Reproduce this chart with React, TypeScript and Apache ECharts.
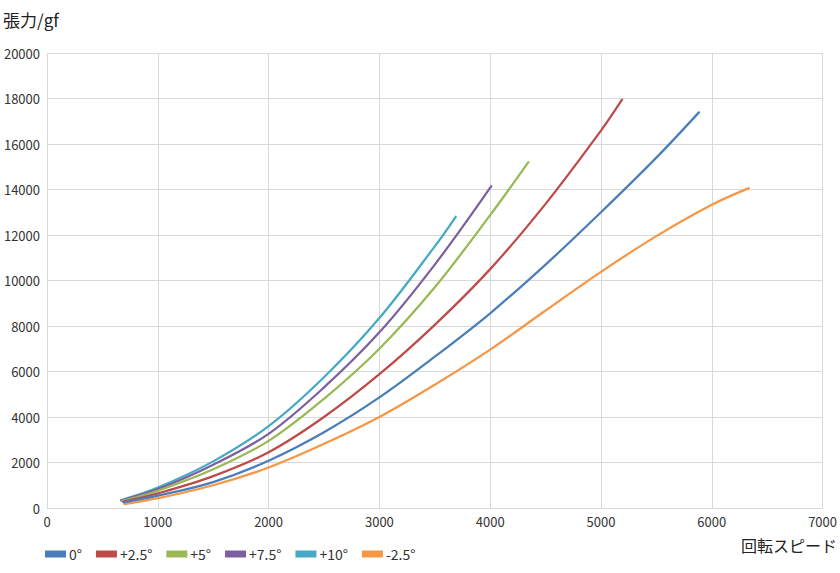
import React, { useEffect, useRef } from "react";
import * as echarts from "echarts";

const seriesNames = ["0°", "+2.5°", "+5°", "+7.5°", "+10°", "-2.5°"];
const seriesColors = ["#4A7EBB", "#BE4B48", "#98B954", "#7D60A0", "#46AAC5", "#F79646"];

const speed0 = [690, 1000, 1500, 2000, 2500, 3000, 3500, 4000, 4500, 5000, 5500, 5884];
const tension0 = [250, 540, 1140, 2080, 3330, 4860, 6650, 8560, 10700, 13000, 15400, 17390];

const speedP25 = [690, 1000, 1500, 2000, 2500, 3000, 3500, 4000, 4500, 5000, 5190];
const tensionP25 = [280, 640, 1400, 2450, 4000, 5880, 8050, 10500, 13370, 16590, 17950];

const speedP5 = [680, 1000, 1500, 2000, 2500, 3000, 3500, 4000, 4345];
const tensionP5 = [310, 760, 1700, 2950, 4800, 7000, 9700, 12875, 15200];

const speedP75 = [670, 1000, 1500, 2000, 2500, 3000, 3500, 4010];
const tensionP75 = [330, 830, 1900, 3260, 5300, 7720, 10700, 14150];

const speedP10 = [670, 1000, 1500, 2000, 2500, 3000, 3500, 3689];
const tensionP10 = [350, 900, 2050, 3600, 5750, 8350, 11500, 12800];

const speedM25 = [700, 1000, 1500, 2000, 2500, 3000, 3500, 4000, 4500, 5000, 5500, 6000, 6335];
const tensionM25 = [175, 430, 1000, 1780, 2820, 4000, 5420, 6960, 8680, 10380, 11950, 13330, 14060];

const xTicks = { min: 0, max: 7000, interval: 1000 };
const yTicks = { min: 0, max: 20000, interval: 2000 };

const yTitle = "張力/gf";
const xTitle = "回転スピード";

const FONT = "'Noto Sans CJK JP', 'Noto Sans', sans-serif";

function pairs(xs: number[], ys: number[]) {
  return xs.map((x, i) => [x, ys[i]]);
}

export default function App() {
  const ref = useRef<HTMLDivElement>(null);
  useEffect(() => {
    if (!ref.current) return;
    const chart = echarts.init(ref.current, undefined, { renderer: "svg" });
    const allData = [
      pairs(speed0, tension0),
      pairs(speedP25, tensionP25),
      pairs(speedP5, tensionP5),
      pairs(speedP75, tensionP75),
      pairs(speedP10, tensionP10),
      pairs(speedM25, tensionM25),
    ];
    chart.setOption({
      animation: false,
      backgroundColor: "#ffffff",
      textStyle: { fontFamily: FONT },
      grid: { left: 47, right: 17, top: 53, bottom: 65, containLabel: false },
      legend: {
        left: 40,
        top: 542,
        itemWidth: 21,
        itemHeight: 7,
        itemGap: 14,
        icon: "rect",
        textStyle: { fontFamily: FONT, fontSize: 14, color: "#333", padding: [0, 0, 0, -2] },
        data: seriesNames,
      },
      xAxis: {
        type: "value",
        min: xTicks.min,
        max: xTicks.max,
        interval: xTicks.interval,
        axisLine: { show: true, lineStyle: { color: "#D9D9D9", width: 1 } },
        axisTick: { show: false },
        axisLabel: {
          color: "#333",
          fontSize: 13,
          fontFamily: FONT,
          margin: 7,
          formatter: (v: number) => String(v),
        },
        splitLine: { show: true, lineStyle: { color: "#D9D9D9", width: 1 } },
      },
      yAxis: {
        type: "value",
        min: yTicks.min,
        max: yTicks.max,
        interval: yTicks.interval,
        axisLine: { show: false },
        axisTick: { show: false },
        axisLabel: {
          color: "#333",
          fontSize: 13,
          fontFamily: FONT,
          margin: 7,
          formatter: (v: number) => String(v),
        },
        splitLine: { show: true, lineStyle: { color: "#D9D9D9", width: 1 } },
      },
      graphic: [
        {
          type: "text",
          left: 3,
          top: 11,
          style: { text: yTitle, font: `17px ${FONT}`, fill: "#222" },
        },
        {
          type: "text",
          right: 3,
          top: 537,
          style: { text: xTitle, font: `16px ${FONT}`, fill: "#222" },
        },
      ],
      series: allData.map((d, i) => ({
        name: seriesNames[i],
        type: "line",
        data: d,
        smooth: 0.35,
        showSymbol: false,
        symbol: "none",
        color: seriesColors[i],
        lineStyle: { color: seriesColors[i], width: 2.25, cap: "round" },
        z: 10 - i,
      })),
    });
    return () => chart.dispose();
  }, []);
  return <div ref={ref} style={{ width: 840, height: 573, position: "absolute", left: 0, top: 0 }} />;
}
